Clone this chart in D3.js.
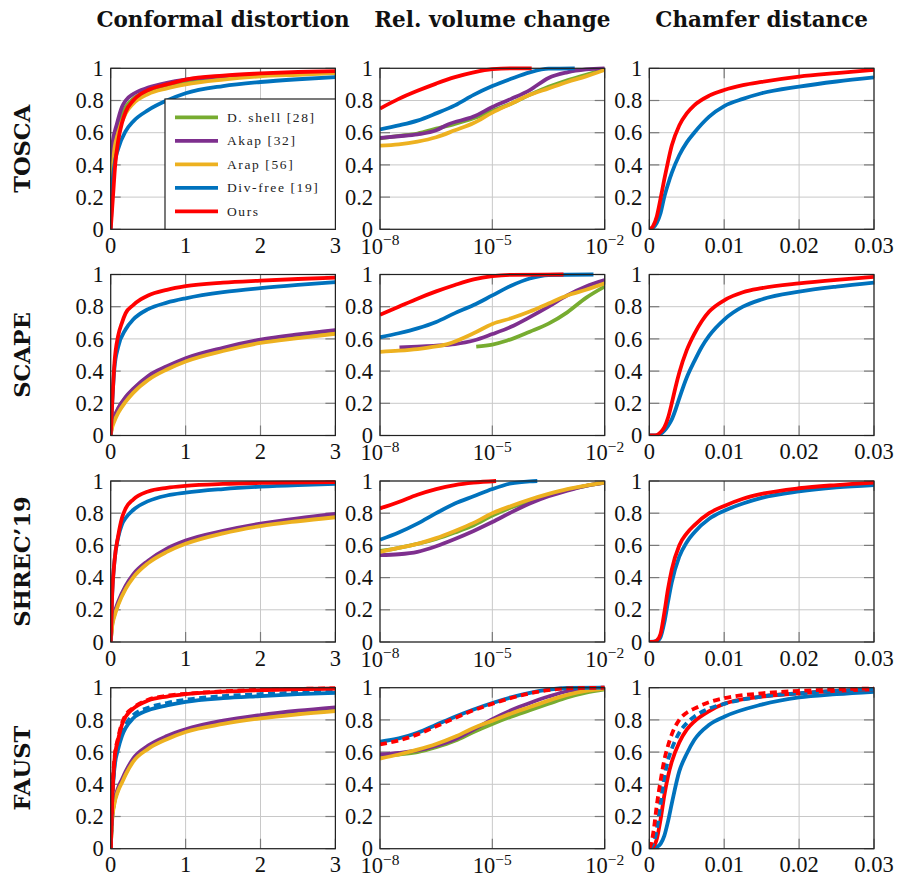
<!DOCTYPE html>
<html><head><meta charset="utf-8">
<script src="https://cdn.jsdelivr.net/npm/d3@7"></script>
<style>body{margin:0;background:#fff}</style>
</head><body><svg id="c" width="898" height="878"></svg>
<script>
// ---------- labels ----------
const columnTitles = ["Conformal distortion", "Rel. volume change", "Chamfer distance"];
const rowLabels = ["TOSCA", "SCAPE", "SHREC\u201919", "FAUST"];
const methods = ["D. shell [28]", "Akap [32]", "Arap [56]", "Div-free [19]", "Ours"];
const methodColors = ["#77ac30", "#7e2f8e", "#edb120", "#0072bd", "#ff0000"];
const yTicks = [0, 0.2, 0.4, 0.6, 0.8, 1];
const yTickLabels = ["0", "0.2", "0.4", "0.6", "0.8", "1"];
const confTicks = [0, 1, 2, 3];
const confTickLabels = ["0", "1", "2", "3"];
const volTickExps = [-8, -5, -2];
const volTickLabels = ["\u22128", "\u22125", "\u22122"];
const chamTicks = [0, 0.01, 0.02, 0.03];
const chamTickLabels = ["0", "0.01", "0.02", "0.03"];

// ---------- Conformal distortion (x, cumulative fraction) ----------
const toscaConfDshell = [[0,0.3],[0.05,0.55],[0.1,0.65],[0.2,0.76],[0.3,0.81],[0.5,0.86],[0.75,0.895],[1,0.915],[1.5,0.94],[2,0.955],[2.5,0.965],[3,0.972]];
const toscaConfAkap = [[0,0.42],[0.03,0.55],[0.08,0.65],[0.15,0.76],[0.2,0.8],[0.3,0.84],[0.5,0.88],[0.75,0.91],[1,0.93],[1.5,0.95],[2,0.963],[2.5,0.972],[3,0.978]];
const toscaConfArap = [[0,0.25],[0.05,0.5],[0.1,0.6],[0.2,0.72],[0.3,0.78],[0.5,0.84],[0.75,0.875],[1,0.9],[1.5,0.93],[2,0.95],[2.5,0.96],[3,0.97]];
const toscaConfDivfree = [[0,0],[0.02,0.25],[0.05,0.4],[0.1,0.5],[0.2,0.61],[0.3,0.67],[0.5,0.74],[0.75,0.8],[1,0.845],[1.5,0.89],[2,0.915],[2.5,0.932],[3,0.945]];
const toscaConfOurs = [[0,0],[0.03,0.2],[0.06,0.4],[0.1,0.55],[0.15,0.66],[0.2,0.73],[0.3,0.8],[0.4,0.84],[0.5,0.865],[0.75,0.9],[1,0.93],[1.5,0.955],[2,0.968],[2.5,0.977],[3,0.983]];

const scapeConfDshell = [[0,0],[0.02,0.075],[0.05,0.115],[0.1,0.165],[0.2,0.235],[0.3,0.285],[0.5,0.365],[0.75,0.425],[1,0.475],[1.5,0.54],[2,0.59],[2.5,0.623],[3,0.65]];
const scapeConfAkap = [[0,0],[0.02,0.08],[0.05,0.12],[0.1,0.17],[0.2,0.24],[0.3,0.29],[0.5,0.37],[0.75,0.43],[1,0.48],[1.5,0.545],[2,0.595],[2.5,0.628],[3,0.655]];
const scapeConfArap = [[0,0],[0.02,0.05],[0.05,0.09],[0.1,0.14],[0.2,0.21],[0.3,0.265],[0.5,0.345],[0.75,0.41],[1,0.46],[1.5,0.525],[2,0.575],[2.5,0.605],[3,0.632]];
const scapeConfDivfree = [[0,0],[0.02,0.2],[0.05,0.42],[0.1,0.55],[0.2,0.66],[0.3,0.72],[0.5,0.785],[0.75,0.825],[1,0.852],[1.5,0.89],[2,0.915],[2.5,0.935],[3,0.952]];
const scapeConfOurs = [[0,0],[0.02,0.2],[0.05,0.45],[0.1,0.62],[0.15,0.7],[0.2,0.76],[0.3,0.81],[0.4,0.845],[0.5,0.87],[0.75,0.905],[1,0.928],[1.5,0.95],[2,0.962],[2.5,0.972],[3,0.98]];

const shrecConfDshell = [[0,0],[0.02,0.11],[0.05,0.17],[0.1,0.24],[0.2,0.34],[0.3,0.41],[0.5,0.497],[0.75,0.57],[1,0.62],[1.5,0.683],[2,0.728],[2.5,0.76],[3,0.785]];
const shrecConfAkap = [[0,0],[0.02,0.12],[0.05,0.18],[0.1,0.25],[0.2,0.35],[0.3,0.42],[0.5,0.505],[0.75,0.58],[1,0.63],[1.5,0.69],[2,0.735],[2.5,0.768],[3,0.795]];
const shrecConfArap = [[0,0],[0.02,0.1],[0.05,0.16],[0.1,0.23],[0.2,0.33],[0.3,0.4],[0.5,0.49],[0.75,0.56],[1,0.61],[1.5,0.675],[2,0.72],[2.5,0.75],[3,0.775]];
const shrecConfDivfree = [[0,0],[0.02,0.3],[0.05,0.5],[0.1,0.65],[0.15,0.73],[0.2,0.77],[0.3,0.82],[0.5,0.875],[0.75,0.91],[1,0.928],[1.5,0.95],[2,0.965],[2.5,0.975],[3,0.982]];
const shrecConfOurs = [[0,0],[0.02,0.3],[0.05,0.5],[0.1,0.66],[0.15,0.77],[0.2,0.83],[0.3,0.885],[0.5,0.935],[0.75,0.958],[1,0.97],[1.5,0.982],[2,0.988],[3,0.993]];

const faustConfDshell = [[0,0],[0.02,0.19],[0.05,0.29],[0.1,0.37],[0.15,0.42],[0.2,0.47],[0.3,0.55],[0.5,0.63],[0.75,0.69],[1,0.733],[1.5,0.785],[2,0.82],[2.5,0.846],[3,0.866]];
const faustConfAkap = [[0,0],[0.02,0.2],[0.05,0.3],[0.1,0.38],[0.15,0.43],[0.2,0.48],[0.3,0.56],[0.5,0.64],[0.75,0.7],[1,0.742],[1.5,0.795],[2,0.83],[2.5,0.857],[3,0.878]];
const faustConfArap = [[0,0],[0.02,0.18],[0.05,0.28],[0.1,0.36],[0.15,0.41],[0.2,0.46],[0.3,0.54],[0.5,0.62],[0.75,0.68],[1,0.725],[1.5,0.775],[2,0.81],[2.5,0.835],[3,0.855]];
const faustConfDivfree = [[0,0],[0.02,0.3],[0.05,0.5],[0.1,0.62],[0.15,0.7],[0.2,0.75],[0.3,0.81],[0.5,0.86],[0.75,0.89],[1,0.912],[1.5,0.935],[2,0.948],[2.5,0.96],[3,0.968]];
const faustConfDivfreeDashed = [[0,0],[0.02,0.3],[0.05,0.52],[0.1,0.64],[0.15,0.72],[0.2,0.77],[0.3,0.83],[0.5,0.875],[0.75,0.905],[1,0.925],[1.5,0.948],[2,0.96],[2.5,0.97],[3,0.978]];
const faustConfOurs = [[0,0],[0.02,0.3],[0.05,0.55],[0.1,0.68],[0.15,0.77],[0.2,0.82],[0.3,0.87],[0.5,0.92],[0.75,0.945],[1,0.96],[1.5,0.975],[2,0.985],[3,0.995]];
const faustConfOursDashed = [[0,0],[0.02,0.32],[0.05,0.56],[0.1,0.69],[0.15,0.78],[0.2,0.83],[0.3,0.875],[0.5,0.925],[0.75,0.95],[1,0.962],[1.5,0.977],[2,0.987],[3,0.996]];

// ---------- Rel. volume change (log10 of x, cumulative fraction) ----------
const toscaVolDshell = [[-8,0.565],[-7.5,0.58],[-7,0.595],[-6.5,0.625],[-6,0.655],[-5.5,0.69],[-5,0.735],[-4.5,0.78],[-4,0.835],[-3.5,0.885],[-3,0.925],[-2.5,0.96],[-2,0.995]];
const toscaVolAkap = [[-8,0.567],[-7.5,0.578],[-7,0.59],[-6.5,0.615],[-6.2,0.65],[-5.5,0.7],[-5,0.76],[-4.5,0.81],[-4,0.865],[-3.5,0.94],[-3,0.975],[-2.5,0.993],[-2,1.0]];
const toscaVolArap = [[-8,0.52],[-7.5,0.528],[-7,0.545],[-6.5,0.572],[-6,0.615],[-5.5,0.66],[-5,0.725],[-4.5,0.78],[-4,0.835],[-3.5,0.875],[-3,0.915],[-2.5,0.95],[-2,0.99]];
const toscaVolDivfree = [[-8,0.62],[-7.5,0.645],[-7,0.675],[-6.5,0.72],[-6,0.77],[-5.5,0.835],[-5,0.89],[-4.5,0.935],[-4,0.975],[-3.5,0.998],[-2.8,1.0]];
const toscaVolOurs = [[-8,0.75],[-7.5,0.81],[-7,0.86],[-6.5,0.905],[-6,0.945],[-5.5,0.975],[-5,0.995],[-4.5,1.0],[-3.95,1.0]];

const scapeVolDshell = [[-5.43,0.552],[-5,0.565],[-4.6,0.59],[-4,0.645],[-3.5,0.695],[-3,0.765],[-2.5,0.855],[-2,0.925]];
const scapeVolAkap = [[-7.48,0.547],[-7,0.552],[-6.5,0.558],[-6,0.568],[-5.5,0.59],[-5,0.63],[-4.5,0.675],[-4,0.735],[-3.5,0.8],[-3,0.87],[-2.5,0.925],[-2,0.965]];
const scapeVolArap = [[-8,0.52],[-7.5,0.527],[-7,0.537],[-6.5,0.553],[-6.2,0.568],[-5.5,0.635],[-5,0.693],[-4.5,0.728],[-4,0.77],[-3.5,0.82],[-3,0.87],[-2.5,0.905],[-2,0.945]];
const scapeVolDivfree = [[-8,0.61],[-7.5,0.635],[-7,0.665],[-6.5,0.705],[-6,0.76],[-5.5,0.81],[-5,0.87],[-4.5,0.93],[-4,0.975],[-3.5,0.997],[-2.3,1.0]];
const scapeVolOurs = [[-8,0.75],[-7.5,0.8],[-7,0.85],[-6.5,0.895],[-6,0.935],[-5.5,0.97],[-5,0.99],[-4.5,0.998],[-3.1,1.0]];

const shrecVolDshell = [[-8,0.565],[-7.5,0.585],[-7,0.61],[-6.5,0.64],[-6,0.68],[-5.5,0.725],[-5,0.785],[-4.5,0.835],[-4,0.875],[-3.5,0.91],[-3,0.945],[-2.5,0.97],[-2,0.99]];
const shrecVolAkap = [[-8,0.54],[-7.5,0.545],[-7,0.56],[-6.5,0.595],[-6,0.64],[-5.5,0.69],[-5,0.745],[-4.5,0.805],[-4,0.86],[-3.5,0.905],[-3,0.94],[-2.5,0.97],[-2,0.99]];
const shrecVolArap = [[-8,0.56],[-7.5,0.585],[-7,0.61],[-6.5,0.645],[-6,0.69],[-5.5,0.74],[-5,0.8],[-4.5,0.845],[-4,0.885],[-3.5,0.92],[-3,0.95],[-2.5,0.972],[-2,0.99]];
const shrecVolDivfree = [[-8,0.635],[-7.5,0.68],[-7,0.735],[-6.5,0.8],[-6,0.86],[-5.5,0.905],[-5,0.95],[-4.5,0.985],[-4,0.998],[-3.8,1.0]];
const shrecVolOurs = [[-8,0.83],[-7.5,0.87],[-7,0.915],[-6.5,0.95],[-6,0.975],[-5.5,0.99],[-4.9,1.0]];

const faustVolDshell = [[-8,0.575],[-7.5,0.585],[-7,0.6],[-6.5,0.63],[-6,0.67],[-5.5,0.725],[-5,0.775],[-4.5,0.82],[-4,0.86],[-3.5,0.9],[-3,0.94],[-2.5,0.97],[-2,0.99]];
const faustVolAkap = [[-8,0.585],[-7.5,0.595],[-7,0.61],[-6.5,0.64],[-6,0.68],[-5.5,0.74],[-5,0.805],[-4.5,0.86],[-4,0.905],[-3.5,0.945],[-3,0.978],[-2.5,0.995],[-2,1.0]];
const faustVolArap = [[-8,0.56],[-7.5,0.585],[-7,0.615],[-6.5,0.65],[-6,0.695],[-5.5,0.75],[-5,0.795],[-4.5,0.84],[-4,0.88],[-3.5,0.92],[-3,0.955],[-2.5,0.98],[-2,0.995]];
const faustVolDivfree = [[-8,0.665],[-7.5,0.685],[-7,0.72],[-6.5,0.77],[-6,0.82],[-5.5,0.865],[-5,0.905],[-4.5,0.94],[-4,0.968],[-3.5,0.988],[-3,0.998],[-2,1.0]];
const faustVolOursDashed = [[-8,0.648],[-7.5,0.672],[-7,0.71],[-6.5,0.76],[-6,0.812],[-5.5,0.86],[-5,0.9],[-4.5,0.936],[-4,0.965],[-3.5,0.985],[-3,0.996],[-2,1.0]];

// ---------- Chamfer distance (x, cumulative fraction) ----------
const toscaChamDivfree = [[0,0],[0.0005,0.01],[0.001,0.04],[0.0015,0.1],[0.002,0.2],[0.0025,0.28],[0.003,0.35],[0.004,0.46],[0.005,0.54],[0.006,0.6],[0.008,0.7],[0.01,0.765],[0.0125,0.81],[0.015,0.845],[0.02,0.886],[0.025,0.918],[0.03,0.944]];
const toscaChamOurs = [[0,0],[0.0005,0.02],[0.001,0.08],[0.0015,0.19],[0.002,0.31],[0.0025,0.42],[0.003,0.52],[0.004,0.645],[0.005,0.72],[0.006,0.77],[0.008,0.83],[0.01,0.865],[0.0125,0.895],[0.015,0.915],[0.02,0.948],[0.025,0.97],[0.03,0.99]];
const scapeChamDivfree = [[0,0],[0.001,0],[0.0015,0.01],[0.002,0.03],[0.0025,0.06],[0.003,0.1],[0.0035,0.16],[0.004,0.23],[0.005,0.36],[0.006,0.46],[0.007,0.55],[0.008,0.62],[0.01,0.72],[0.0125,0.8],[0.015,0.845],[0.02,0.893],[0.025,0.925],[0.03,0.95]];
const scapeChamOurs = [[0,0],[0.0008,0],[0.0015,0.02],[0.002,0.05],[0.0025,0.11],[0.003,0.2],[0.0035,0.3],[0.004,0.39],[0.005,0.53],[0.006,0.63],[0.007,0.71],[0.008,0.77],[0.01,0.84],[0.0125,0.89],[0.015,0.915],[0.02,0.945],[0.025,0.967],[0.03,0.985]];
const shrecChamDivfree = [[0,0],[0.001,0.005],[0.0015,0.03],[0.002,0.12],[0.0025,0.25],[0.003,0.37],[0.004,0.53],[0.005,0.62],[0.006,0.68],[0.008,0.765],[0.01,0.815],[0.0125,0.86],[0.015,0.895],[0.02,0.935],[0.025,0.96],[0.03,0.975]];
const shrecChamOurs = [[0,0],[0.0005,0],[0.001,0.01],[0.0015,0.05],[0.002,0.18],[0.0025,0.33],[0.003,0.45],[0.004,0.6],[0.005,0.675],[0.006,0.725],[0.008,0.8],[0.01,0.845],[0.0125,0.89],[0.015,0.92],[0.02,0.955],[0.025,0.975],[0.03,0.99]];
const faustChamDivfree = [[0,0],[0.0005,0],[0.001,0.01],[0.0015,0.03],[0.002,0.08],[0.0025,0.17],[0.003,0.28],[0.004,0.48],[0.005,0.59],[0.006,0.675],[0.008,0.77],[0.01,0.82],[0.015,0.895],[0.02,0.94],[0.025,0.96],[0.03,0.975]];
const faustChamOurs = [[0,0],[0.0005,0.01],[0.001,0.06],[0.0015,0.18],[0.002,0.33],[0.0025,0.45],[0.003,0.54],[0.004,0.66],[0.005,0.74],[0.006,0.79],[0.008,0.855],[0.01,0.9],[0.015,0.945],[0.02,0.965],[0.025,0.98],[0.03,0.99]];
const faustChamDivfreeDashed = [[0,0],[0.0005,0.03],[0.001,0.12],[0.0015,0.28],[0.002,0.44],[0.0025,0.55],[0.003,0.62],[0.004,0.72],[0.005,0.78],[0.006,0.82],[0.008,0.87],[0.01,0.9],[0.015,0.945],[0.02,0.965],[0.025,0.98],[0.03,0.99]];
const faustChamOursDashed = [[0,0],[0.0003,0.04],[0.0006,0.12],[0.001,0.27],[0.0015,0.42],[0.002,0.55],[0.0025,0.64],[0.003,0.71],[0.004,0.8],[0.005,0.845],[0.006,0.87],[0.008,0.91],[0.01,0.935],[0.015,0.965],[0.02,0.98],[0.025,0.99],[0.03,0.995]];

// ---------- panel assembly ----------
const S = (m, data, dashed) => ({m, data, dashed: !!dashed});
const panels = [
  [ [S(0,toscaConfDshell),S(1,toscaConfAkap),S(2,toscaConfArap),S(3,toscaConfDivfree),S(4,toscaConfOurs)],
    [S(0,toscaVolDshell),S(1,toscaVolAkap),S(2,toscaVolArap),S(3,toscaVolDivfree),S(4,toscaVolOurs)],
    [S(3,toscaChamDivfree),S(4,toscaChamOurs)] ],
  [ [S(0,scapeConfDshell),S(1,scapeConfAkap),S(2,scapeConfArap),S(3,scapeConfDivfree),S(4,scapeConfOurs)],
    [S(0,scapeVolDshell),S(1,scapeVolAkap),S(2,scapeVolArap),S(3,scapeVolDivfree),S(4,scapeVolOurs)],
    [S(3,scapeChamDivfree),S(4,scapeChamOurs)] ],
  [ [S(0,shrecConfDshell),S(1,shrecConfAkap),S(2,shrecConfArap),S(3,shrecConfDivfree),S(4,shrecConfOurs)],
    [S(0,shrecVolDshell),S(1,shrecVolAkap),S(2,shrecVolArap),S(3,shrecVolDivfree),S(4,shrecVolOurs)],
    [S(3,shrecChamDivfree),S(4,shrecChamOurs)] ],
  [ [S(0,faustConfDshell),S(1,faustConfAkap),S(2,faustConfArap),S(3,faustConfDivfree),S(3,faustConfDivfreeDashed,true),S(4,faustConfOurs),S(4,faustConfOursDashed,true)],
    [S(0,faustVolDshell),S(1,faustVolAkap),S(2,faustVolArap),S(3,faustVolDivfree),S(4,faustVolOursDashed,true)],
    [S(3,faustChamDivfree),S(4,faustChamOurs),S(3,faustChamDivfreeDashed,true),S(4,faustChamOursDashed,true)] ]
];

// ---------- layout ----------
const colLeft = [110.7, 380, 649.3];
const rowTop = [68.3, 274.5, 481, 687.7];
const PW = 224.7, PH = 161;
const tickFont = "'Liberation Serif', 'Times New Roman', serif";
const boldFont = "'DejaVu Serif', serif";

const svg = d3.select("#c");
const defs = svg.append("defs");

columnTitles.forEach((t, c) => {
  svg.append("text").attr("x", colLeft[c] + PW / 2).attr("y", 26.5)
    .attr("text-anchor", "middle").attr("font-family", boldFont).attr("font-weight", "bold")
    .attr("font-size", 21.5).attr("fill", "#111").text(t);
});
rowLabels.forEach((t, r) => {
  const cy = rowTop[r] + PH / 2;
  svg.append("text").attr("transform", `translate(21.5,${cy}) rotate(-90)`)
    .attr("text-anchor", "middle").attr("dominant-baseline", "central")
    .attr("font-family", boldFont).attr("font-weight", "bold")
    .attr("font-size", 22.5).attr("fill", "#111").text(t);
});

function makeX(c) {
  if (c === 0) return d3.scaleLinear().domain([0, 3]).range([0, PW]);
  if (c === 1) return d3.scaleLog().domain([1e-8, 1e-2]).range([0, PW]);
  return d3.scaleLinear().domain([0, 0.03]).range([0, PW]);
}
const y = d3.scaleLinear().domain([0, 1]).range([PH, 0]);

panels.forEach((row, r) => {
  row.forEach((series, c) => {
    const x = makeX(c);
    const g = svg.append("g").attr("transform", `translate(${colLeft[c]},${rowTop[r]})`);
    const xTickVals = c === 0 ? confTicks : c === 1 ? volTickExps.map(e => Math.pow(10, e)) : chamTicks;

    // grid
    g.selectAll(".gx").data(xTickVals).enter().append("line")
      .attr("x1", d => x(d)).attr("x2", d => x(d)).attr("y1", 0).attr("y2", PH)
      .attr("stroke", "#c8c8c8").attr("stroke-width", 1);
    g.selectAll(".gy").data(yTicks).enter().append("line")
      .attr("x1", 0).attr("x2", PW).attr("y1", d => y(d)).attr("y2", d => y(d))
      .attr("stroke", "#c8c8c8").attr("stroke-width", 1);
    // inner ticks
    const tl = 10, tc = "#7a7a7a";
    yTicks.forEach(v => {
      g.append("line").attr("x1", 0).attr("x2", tl).attr("y1", y(v)).attr("y2", y(v)).attr("stroke", tc).attr("stroke-width", 1.2);
      g.append("line").attr("x1", PW - tl).attr("x2", PW).attr("y1", y(v)).attr("y2", y(v)).attr("stroke", tc).attr("stroke-width", 1.2);
    });
    xTickVals.forEach(v => {
      g.append("line").attr("x1", x(v)).attr("x2", x(v)).attr("y1", PH).attr("y2", PH - tl).attr("stroke", tc).attr("stroke-width", 1.2);
      g.append("line").attr("x1", x(v)).attr("x2", x(v)).attr("y1", 0).attr("y2", tl).attr("stroke", tc).attr("stroke-width", 1.2);
    });

    // clip
    const cid = `clip${r}${c}`;
    defs.append("clipPath").attr("id", cid).append("rect")
      .attr("x", 0).attr("y", -3).attr("width", PW).attr("height", PH + 3);

    const line = d3.line()
      .x(d => c === 1 ? x(Math.pow(10, d[0])) : x(d[0]))
      .y(d => y(d[1]))
      .curve(d3.curveMonotoneX);
    const lg = g.append("g").attr("clip-path", `url(#${cid})`);
    series.forEach(s => {
      lg.append("path").attr("d", line(s.data)).attr("fill", "none")
        .attr("stroke", methodColors[s.m]).attr("stroke-width", 3.8)
        .attr("stroke-linejoin", "round")
        .attr("stroke-dasharray", s.dashed ? "7,4.5" : null);
    });

    // frame
    g.append("rect").attr("x", 0).attr("y", 0).attr("width", PW).attr("height", PH)
      .attr("fill", "none").attr("stroke", "#222").attr("stroke-width", 1.2);

    // y tick labels
    yTicks.forEach((v, i) => {
      g.append("text").attr("x", -7).attr("y", y(v)).attr("dy", "0.34em")
        .attr("text-anchor", "end").attr("font-family", tickFont).attr("font-size", 22.5)
        .attr("fill", "#111").text(yTickLabels[i]);
    });
    // x tick labels
    if (c === 1) {
      volTickExps.forEach((e, i) => {
        const t = g.append("text").attr("x", x(Math.pow(10, e))).attr("y", PH + 24.5)
          .attr("text-anchor", "middle").attr("font-family", tickFont).attr("font-size", 22.5).attr("fill", "#111");
        t.append("tspan").text("10");
        t.append("tspan").attr("dy", -8.5).attr("font-size", 15.5).text(volTickLabels[i]);
      });
    } else {
      const labs = c === 0 ? confTickLabels : chamTickLabels;
      xTickVals.forEach((v, i) => {
        g.append("text").attr("x", x(v)).attr("y", PH + 23.5)
          .attr("text-anchor", "middle").attr("font-family", tickFont).attr("font-size", 22.5)
          .attr("fill", "#111").text(labs[i]);
      });
    }

    // legend
    if (r === 0 && c === 0) {
      const lx = 165 - colLeft[0], ly = 99 - rowTop[0];
      const leg = g.append("g").attr("transform", `translate(${lx},${ly})`);
      leg.append("rect").attr("x", 0).attr("y", 0).attr("width", PW - lx).attr("height", PH - ly)
        .attr("fill", "#fff").attr("stroke", "#222").attr("stroke-width", 1.2);
      methods.forEach((m, i) => {
        const yy = 18.3 + i * 23.5;
        leg.append("line").attr("x1", 10).attr("x2", 53).attr("y1", yy).attr("y2", yy)
          .attr("stroke", methodColors[i]).attr("stroke-width", 3.8);
        leg.append("text").attr("x", 62).attr("y", yy).attr("dy", "0.34em")
          .attr("font-family", tickFont).attr("font-size", 13.5).attr("letter-spacing", 1.6)
          .attr("fill", "#222").text(m);
      });
    }
  });
});
</script></body></html>
